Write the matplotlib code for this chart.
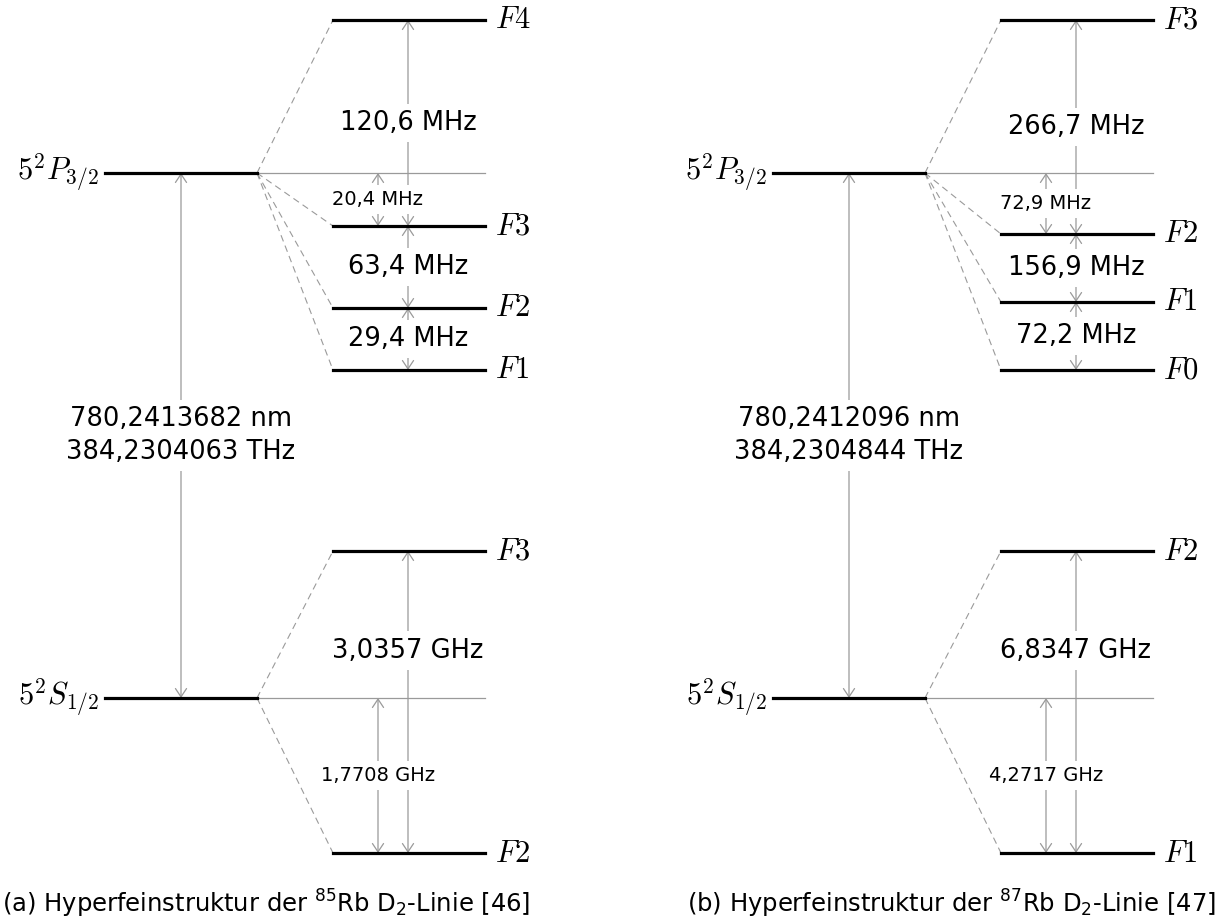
import matplotlib
matplotlib.use("Agg")
import matplotlib.pyplot as plt
from matplotlib.patches import FancyArrowPatch

# --- Datos: niveles (posicion esquematica, no a escala) y etiquetas ---
fine_names = [r"$5^2P_{3/2}$", r"$5^2S_{1/2}$"]
fine_y = [173, 698]

rb85_p_names = ["F4", "F3", "F2", "F1"]
rb85_p_y = [20, 226, 308, 370]
rb85_p_split = ["120,6 MHz", "63,4 MHz", "29,4 MHz"]
rb85_p_offset = "20,4 MHz"
rb85_s_names = ["F3", "F2"]
rb85_s_y = [551, 853]
rb85_s_split = ["3,0357 GHz"]
rb85_s_offset = "1,7708 GHz"
rb85_line = "780,2413682 nm\n384,2304063 THz"
rb85_caption = r"(a) Hyperfeinstruktur der $^{85}$Rb D$_2$-Linie [46]"

rb87_p_names = ["F3", "F2", "F1", "F0"]
rb87_p_y = [20, 234, 302, 370]
rb87_p_split = ["266,7 MHz", "156,9 MHz", "72,2 MHz"]
rb87_p_offset = "72,9 MHz"
rb87_s_names = ["F2", "F1"]
rb87_s_y = [551, 853]
rb87_s_split = ["6,8347 GHz"]
rb87_s_offset = "4,2717 GHz"
rb87_line = "780,2412096 nm\n384,2304844 THz"
rb87_caption = r"(b) Hyperfeinstruktur der $^{87}$Rb D$_2$-Linie [47]"

GRIS = "#9a9a9a"
BOX = dict(facecolor="white", edgecolor="none", boxstyle="square,pad=0.25")

fig = plt.figure(figsize=(12.2, 9.24), dpi=100)
ax = fig.add_axes([0, 0, 1, 1])
ax.set_xlim(0, 1220)
ax.set_ylim(924, 0)
ax.axis("off")


def flecha(x, y0, y1):
    ax.add_patch(FancyArrowPatch((x, y0), (x, y1),
                                 arrowstyle="<->,head_length=0.3,head_width=0.2",
                                 mutation_scale=20, color=GRIS, lw=0.9,
                                 shrinkA=0, shrinkB=0, zorder=2))


def rotulo(x, y, s, size=18.5):
    ax.text(x, y, s, fontsize=size, ha="center", va="center",
            bbox=BOX, zorder=3)


def bloque(dx, yfine, name, names, ys, split, offset, split_pos):
    x0, x1, x2, x3 = 105 + dx, 257 + dx, 333 + dx, 485 + dx
    ax.plot([x0, x1], [yfine, yfine], color="black", lw=2.3, zorder=4)
    ax.text(x0 - 6, yfine, name, fontsize=22, ha="right", va="center",
            math_fontfamily="cm")
    ax.plot([x1, x3], [yfine, yfine], color=GRIS, lw=0.9, zorder=1)
    for n, y in zip(names, ys):
        ax.plot([x2, x3], [y, y], color="black", lw=2.3, zorder=4)
        ax.plot([x1, x2], [yfine, y], color=GRIS, lw=0.8,
                ls=(0, (6, 4)), zorder=1)
        ax.text(x3 + 10, y, "$" + n + "$", fontsize=22, ha="left",
                va="center", math_fontfamily="cm")
    xa = 408 + dx
    for i, s in enumerate(split):
        ya, yb = ys[i], ys[i + 1]
        flecha(xa, ya, yb)
        rotulo(xa, ya + split_pos[i] * (yb - ya), s)
    # desplazamiento del nivel inferior respecto al centro de gravedad
    below = [y for y in ys if y > yfine][0]
    xb = 378 + dx
    flecha(xb, yfine, below)
    rotulo(xb, (yfine + below) / 2, offset, size=14)


for dx, p, s, line, cap, xc, ha in [
        (0, (rb85_p_names, rb85_p_y, rb85_p_split, rb85_p_offset),
         (rb85_s_names, rb85_s_y, rb85_s_split, rb85_s_offset),
         rb85_line, rb85_caption, 2, "left"),
        (668, (rb87_p_names, rb87_p_y, rb87_p_split, rb87_p_offset),
         (rb87_s_names, rb87_s_y, rb87_s_split, rb87_s_offset),
         rb87_line, rb87_caption, 1216, "right")]:
    bloque(dx, fine_y[0], fine_names[0], *p, split_pos=[0.5, 0.5, 0.5])
    bloque(dx, fine_y[1], fine_names[1], *s, split_pos=[0.33])
    xm = 181 + dx
    flecha(xm, fine_y[0], fine_y[1])
    ax.text(xm, (fine_y[0] + fine_y[1]) / 2, line, fontsize=18.5,
            ha="center", va="center", linespacing=1.35, bbox=BOX, zorder=3)
    ax.text(xc, 904, cap, fontsize=17.5, ha=ha, va="center",
            math_fontfamily="dejavusans")

fig.savefig("out.png", dpi=100)
